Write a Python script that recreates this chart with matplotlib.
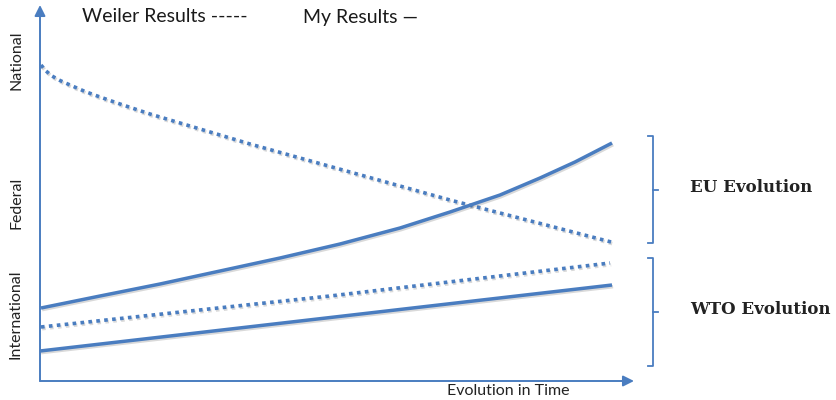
import matplotlib
matplotlib.use('Agg')
import matplotlib.pyplot as plt
import matplotlib.patheffects as pe

# curves (x to the right, y downward, in pixels)
weiler_eu_x = [41, 46, 52, 60, 70, 85, 100, 120, 150, 200, 250, 300, 350, 400, 450, 500, 550, 615]
weiler_eu_y = [65, 71, 76, 80.5, 85, 91.5, 97, 104, 114, 129, 144, 158, 172, 186, 200, 213, 226, 243]

my_eu_x = [41, 100, 160, 220, 280, 340, 400, 450, 500, 540, 575, 612]
my_eu_y = [308, 296, 284, 271, 258, 244, 228, 212, 195, 178, 162, 143]

weiler_wto_x = [41, 330, 610]
weiler_wto_y = [327, 296, 263]

my_wto_x = [40, 326, 612]
my_wto_y = [351, 318, 285]

y_labels = ["National", "Federal", "International"]
y_label_pos = [60, 203, 314]
groups = ["EU Evolution", "WTO Evolution"]
group_spans = [(136, 243), (258, 366)]

BLUE = '#4a7dc0'

fig = plt.figure(figsize=(8.36, 4.0), dpi=100)
ax = fig.add_axes([0, 0, 1, 1])
ax.set_xlim(0, 836)
ax.set_ylim(400, 0)
ax.axis('off')

shadow = [pe.SimpleLineShadow(offset=(0.8, -1.2), alpha=0.15), pe.Normal()]

# dotted = Weiler, solid = mine
for xs, ys in [(weiler_eu_x, weiler_eu_y), (weiler_wto_x, weiler_wto_y)]:
    ax.plot(xs, ys, color=BLUE, lw=2.6, linestyle=(0, (1, 1.2)),
            dash_capstyle='butt', solid_joinstyle='round', path_effects=shadow)
for xs, ys in [(my_eu_x, my_eu_y), (my_wto_x, my_wto_y)]:
    ax.plot(xs, ys, color=BLUE, lw=2.5, solid_capstyle='butt',
            solid_joinstyle='round', path_effects=shadow)

# axes with arrows
arrow = dict(arrowstyle='-|>', color=BLUE, lw=1.4, mutation_scale=16, shrinkA=0, shrinkB=0)
ax.annotate('', xy=(40, 5), xytext=(40, 381), arrowprops=arrow)
ax.annotate('', xy=(634, 381), xytext=(40, 381), arrowprops=arrow)

ax.text(508, 391, "Evolution in Time", family='Lato', fontsize=11.5,
        color='#222222', ha='center', va='center')
for lab, yp in zip(y_labels, y_label_pos):
    ax.text(16, yp, lab, family='Lato', fontsize=11.5, color='#222222',
            rotation=90, ha='center', va='center')

ax.text(82, 17, "Weiler Results -----", family='Lato', fontsize=14,
        color='#1a1a1a', ha='left', va='center')
ax.text(303, 17, "My Results \u2014", family='Lato', fontsize=14,
        color='#1a1a1a', ha='left', va='center')

# brackets on the right
for lab, (top, bot) in zip(groups, group_spans):
    mid = (top + bot) / 2
    ax.plot([648, 653, 653, 648], [top, top, bot, bot], color=BLUE, lw=1.3)
    ax.plot([653, 658], [mid, mid], color=BLUE, lw=1.3)
    ax.text(690, mid - 2, lab, family='DejaVu Serif', fontweight='bold',
            fontsize=12, color='#222222', ha='left', va='center')

fig.savefig('out.png', dpi=100, facecolor='white')
